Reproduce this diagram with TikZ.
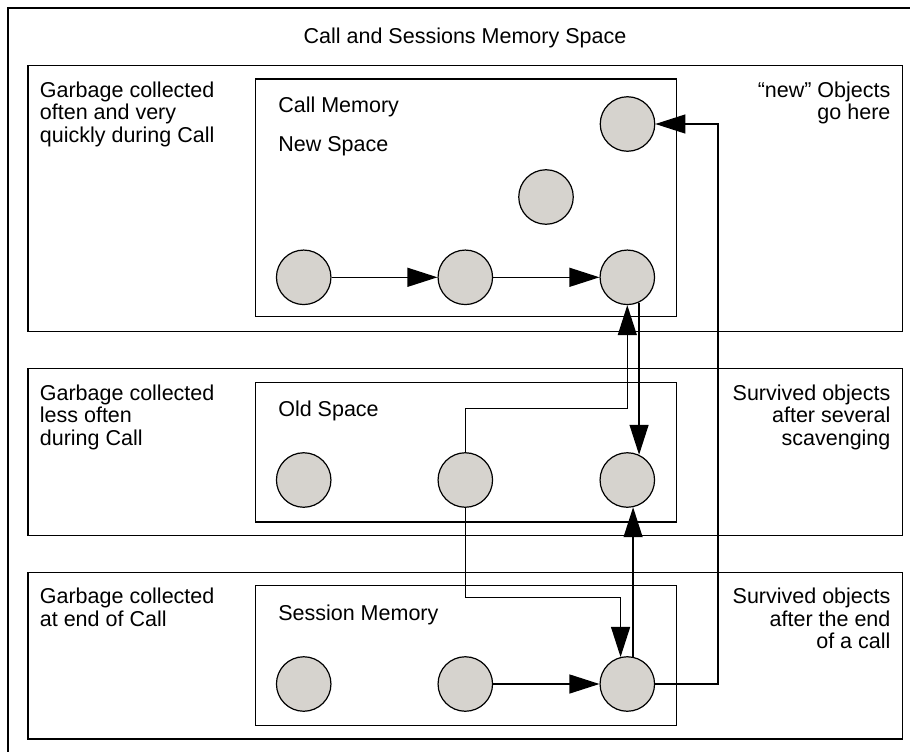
\documentclass[tikz,border=0pt]{standalone}
\usepackage{fontspec}
\setmainfont{Liberation Sans}
\usetikzlibrary{arrows.meta}
\definecolor{objgray}{RGB}{214,211,206}
\begin{document}
\begin{tikzpicture}[x=1pt,y=-1pt,>={Triangle[length=30pt,width=19pt]},
line width=1.2pt,
font=\fontsize{21.5}{22.6}\selectfont,
obj/.style={circle,draw,fill=objgray,minimum size=54.5pt,inner sep=0pt},
lnote/.style={anchor=base west,align=left,inner sep=0pt},
rnote/.style={anchor=base east,align=right,inner sep=0pt}]
\useasboundingbox (0,0) rectangle (910,752);
\draw (8,752) |- (910,8);
\draw (28,65.7) rectangle (902.7,331.7)
      (28,368.7) rectangle (902.7,535.7)
      (28,572.3) rectangle (902.7,739);
\draw (255.7,79) rectangle (676.5,316.7)
      (255.7,382.3) rectangle (676.5,522)
      (255.7,585.7) rectangle (676.5,725.7);
% multi-line notes sit on their last line
\node[anchor=base,inner sep=0pt] (title) at (465,44) {Call and Sessions Memory Space};
\node[lnote] (gc1) at (39.3,142.2) {Garbage collected\\often and very\\quickly during Call};
\node[lnote] (gc2) at (39.3,445.2) {Garbage collected\\less often\\during Call};
\node[lnote] (gc3) at (39.3,626.2) {Garbage collected\\at end of Call};
\node[rnote] (why1) at (891,119.6) {“new” Objects\\go here};
\node[rnote] (why2) at (891,445.2) {Survived objects\\after several\\scavenging};
\node[rnote] (why3) at (891,648.8) {Survived objects\\after the end\\of a call};
\node[lnote] (callmem) at (277.7,112) {Call Memory};
\node[lnote] (newsp) at (277.7,151) {New Space};
\node[lnote] (oldsp) at (277.7,416) {Old Space};
\node[lnote] (sessmem) at (277.7,620) {Session Memory};
\node[obj] (n4) at (627.5,124) {};
\node[obj] (n5) at (546,197) {};
\node[obj] (n1) at (303.7,277.3) {};
\node[obj] (n2) at (465.3,277.3) {};
\node[obj] (n3) at (627.3,277.3) {};
\node[obj] (o1) at (303.7,480) {};
\node[obj] (o2) at (465.3,480) {};
\node[obj] (o3) at (627.3,480) {};
\node[obj] (s1) at (303.7,684) {};
\node[obj] (s2) at (465.3,684) {};
\node[obj] (s3) at (627.3,684) {};
\coordinate (bendA) at (0,408.3);
\coordinate (bendB) at (0,597.7);
\coordinate (rise) at (718,400);
\path[->]
(n1) edge (n2)
(n2) edge (n3)
(s2) edge (s3)
(n3.-65) edge (o3.65)
(s3.78) edge (o3.-78);
\draw[->] (o2.north) |- (bendA -| n3) -- (n3.south);
\draw[->] (o2.south) |- (bendB -| s3.104) -- (s3.104);
\draw[->] (s3.east) -| (rise) |- (n4.east);
\end{tikzpicture}
\end{document}
